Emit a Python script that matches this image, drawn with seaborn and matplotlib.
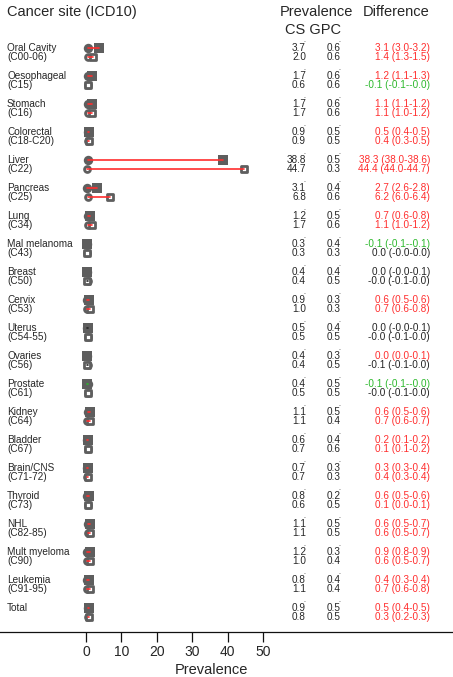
import pandas as pd
import seaborn as sns
import matplotlib.pyplot as plt
import matplotlib.transforms as mtransforms

sns.set_theme(style="white")
plt.rcParams['font.family'] = ['Liberation Sans', 'DejaVu Sans']

# data
sites = ["Oral Cavity\n(C00-06)", "Oesophageal\n(C15)", "Stomach\n(C16)", "Colorectal\n(C18-C20)",
         "Liver\n(C22)", "Pancreas\n(C25)", "Lung\n(C34)", "Mal melanoma\n(C43)", "Breast\n(C50)",
         "Cervix\n(C53)", "Uterus\n(C54-55)", "Ovaries\n(C56)", "Prostate\n(C61)", "Kidney\n(C64)",
         "Bladder\n(C67)", "Brain/CNS\n(C71-72)", "Thyroid\n(C73)", "NHL\n(C82-85)",
         "Mult myeloma\n(C90)", "Leukemia\n(C91-95)", "Total"]

cs1 = [3.7, 1.7, 1.7, 0.9, 38.8, 3.1, 1.2, 0.3, 0.4, 0.9, 0.5, 0.4, 0.4, 1.1, 0.6, 0.7, 0.8, 1.1, 1.2, 0.8, 0.9]
gpc1 = [0.6, 0.6, 0.6, 0.5, 0.5, 0.4, 0.5, 0.4, 0.4, 0.3, 0.4, 0.3, 0.5, 0.5, 0.4, 0.3, 0.2, 0.5, 0.3, 0.4, 0.5]
diff1 = ["3.1 (3.0-3.2)", "1.2 (1.1-1.3)", "1.1 (1.1-1.2)", "0.5 (0.4-0.5)", "38.3 (38.0-38.6)",
         "2.7 (2.6-2.8)", "0.7 (0.6-0.8)", "-0.1 (-0.1--0.1)", "0.0 (-0.0-0.1)", "0.6 (0.5-0.6)",
         "0.0 (-0.0-0.1)", "0.0 (0.0-0.1)", "-0.1 (-0.1--0.0)", "0.6 (0.5-0.6)", "0.2 (0.1-0.2)",
         "0.3 (0.3-0.4)", "0.6 (0.5-0.6)", "0.6 (0.5-0.7)", "0.9 (0.8-0.9)", "0.4 (0.3-0.4)",
         "0.5 (0.4-0.5)"]
sig1 = ["r", "r", "r", "r", "r", "r", "r", "g", "k", "r", "k", "r", "g", "r", "r", "r", "r", "r", "r", "r", "r"]

cs2 = [2.0, 0.6, 1.7, 0.9, 44.7, 6.8, 1.7, 0.3, 0.4, 1.0, 0.5, 0.4, 0.5, 1.1, 0.7, 0.7, 0.6, 1.1, 1.0, 1.1, 0.8]
gpc2 = [0.6, 0.6, 0.6, 0.5, 0.3, 0.6, 0.6, 0.3, 0.5, 0.3, 0.5, 0.5, 0.5, 0.4, 0.6, 0.3, 0.5, 0.5, 0.4, 0.4, 0.5]
diff2 = ["1.4 (1.3-1.5)", "-0.1 (-0.1--0.0)", "1.1 (1.0-1.2)", "0.4 (0.3-0.5)", "44.4 (44.0-44.7)",
         "6.2 (6.0-6.4)", "1.1 (1.0-1.2)", "0.0 (-0.0-0.0)", "-0.0 (-0.1-0.0)", "0.7 (0.6-0.8)",
         "-0.0 (-0.1-0.0)", "-0.1 (-0.1-0.0)", "-0.0 (-0.1-0.0)", "0.7 (0.6-0.7)", "0.1 (0.1-0.2)",
         "0.4 (0.3-0.4)", "0.1 (0.0-0.1)", "0.6 (0.5-0.7)", "0.6 (0.5-0.7)", "0.7 (0.6-0.8)",
         "0.3 (0.2-0.3)"]
sig2 = ["r", "g", "r", "r", "r", "r", "r", "k", "k", "r", "k", "k", "k", "r", "r", "r", "r", "r", "r", "r", "r"]

xticks = [0, 10, 20, 30, 40, 50]

sig_colors = {"r": "#ff2e2e", "g": "#2cb82c", "k": "#222222"}
grey = "#5e5e5e"
txt = "#262626"

W, H = 453, 677
fig = plt.figure(figsize=(W / 100, H / 100), dpi=100)
ax = fig.add_axes([0, 45 / H, 1, 632 / H])

# row positions (pixel-like units, 28 between sites, 9 between the two rows)
y1 = [i * 28 for i in range(len(sites))]
y2 = [i * 28 + 9 for i in range(len(sites))]

df1 = pd.DataFrame({"cs": cs1, "gpc": gpc1, "y": y1, "sig": sig1})
df2 = pd.DataFrame({"cs": cs2, "gpc": gpc2, "y": y2, "sig": sig2})

# first row: filled markers
sns.scatterplot(data=df1, x="gpc", y="y", marker="o", s=46, color=grey, edgecolor=grey, linewidth=0, ax=ax, zorder=2)
sns.scatterplot(data=df1, x="cs", y="y", marker="s", s=46, color=grey, edgecolor=grey, linewidth=0, ax=ax, zorder=2)
# second row: thick-edged markers with a small white centre
sns.scatterplot(data=df2, x="gpc", y="y", marker="o", s=18, color="white", edgecolor=grey, linewidth=2.0, ax=ax, zorder=2)
sns.scatterplot(data=df2, x="cs", y="y", marker="s", s=18, color="white", edgecolor=grey, linewidth=2.0, ax=ax, zorder=2)

for d in (df1, df2):
    for _, r in d.iterrows():
        ax.plot([r["gpc"], r["cs"]], [r["y"], r["y"]], color=sig_colors[r["sig"]], lw=1.2, zorder=3)

ax.set_xlim((0 - 86) / 3.54, (W - 86) / 3.54)
ax.set_ylim(632 - 48, -48)
ax.set_xticks(xticks)
ax.set_xticklabels([str(t) for t in xticks], fontsize=10, color=txt)
ax.set_yticks([])
ax.set_xlabel("")
ax.set_ylabel("")
for side in ["top", "left", "right"]:
    ax.spines[side].set_visible(False)
ax.spines["bottom"].set_color("#111111")
ax.spines["bottom"].set_linewidth(0.9)
ax.tick_params(axis="x", direction="out", length=7, width=0.9, color="#111111", pad=2, bottom=True)

tr = mtransforms.blended_transform_factory(fig.transFigure, ax.transData)
fs = 7.2
for i, name in enumerate(sites):
    lines = name.split("\n")
    ax.text(7 / W, y1[i], lines[0], transform=tr, fontsize=fs, color=txt, va="center", ha="left")
    if len(lines) > 1:
        ax.text(7 / W, y2[i], lines[1], transform=tr, fontsize=fs, color=txt, va="center", ha="left")
    ax.text(306 / W, y1[i], f"{cs1[i]:.1f}", transform=tr, fontsize=fs, color=txt, va="center", ha="right")
    ax.text(341 / W, y1[i], f"{gpc1[i]:.1f}", transform=tr, fontsize=fs, color=txt, va="center", ha="right")
    ax.text(306 / W, y2[i], f"{cs2[i]:.1f}", transform=tr, fontsize=fs, color=txt, va="center", ha="right")
    ax.text(341 / W, y2[i], f"{gpc2[i]:.1f}", transform=tr, fontsize=fs, color=txt, va="center", ha="right")
    ax.text(430 / W, y1[i], diff1[i], transform=tr, fontsize=fs, color=sig_colors[sig1[i]], va="center", ha="right")
    ax.text(430 / W, y2[i], diff2[i], transform=tr, fontsize=fs, color=sig_colors[sig2[i]], va="center", ha="right")
    # small stray dots above the first row of numbers
    ax.text(305 / W, y1[i] - 7, ".", transform=tr, fontsize=5, color=txt, va="center", ha="right")
    ax.text(340 / W, y1[i] - 7, ".", transform=tr, fontsize=5, color=txt, va="center", ha="right")

# headers
fig.text(7 / W, 1 - 12 / H, "Cancer site (ICD10)", fontsize=10.5, color=txt, ha="left", va="center")
fig.text(316 / W, 1 - 12 / H, "Prevalence", fontsize=10.5, color=txt, ha="center", va="center")
fig.text(396 / W, 1 - 12 / H, "Difference", fontsize=10.5, color=txt, ha="center", va="center")
fig.text(313 / W, 1 - 30 / H, "CS GPC", fontsize=10.5, color=txt, ha="center", va="center")
fig.text(211 / W, 1 - 670 / H, "Prevalence", fontsize=10.5, color=txt, ha="center", va="center")

plt.savefig("out.png", dpi=100)
